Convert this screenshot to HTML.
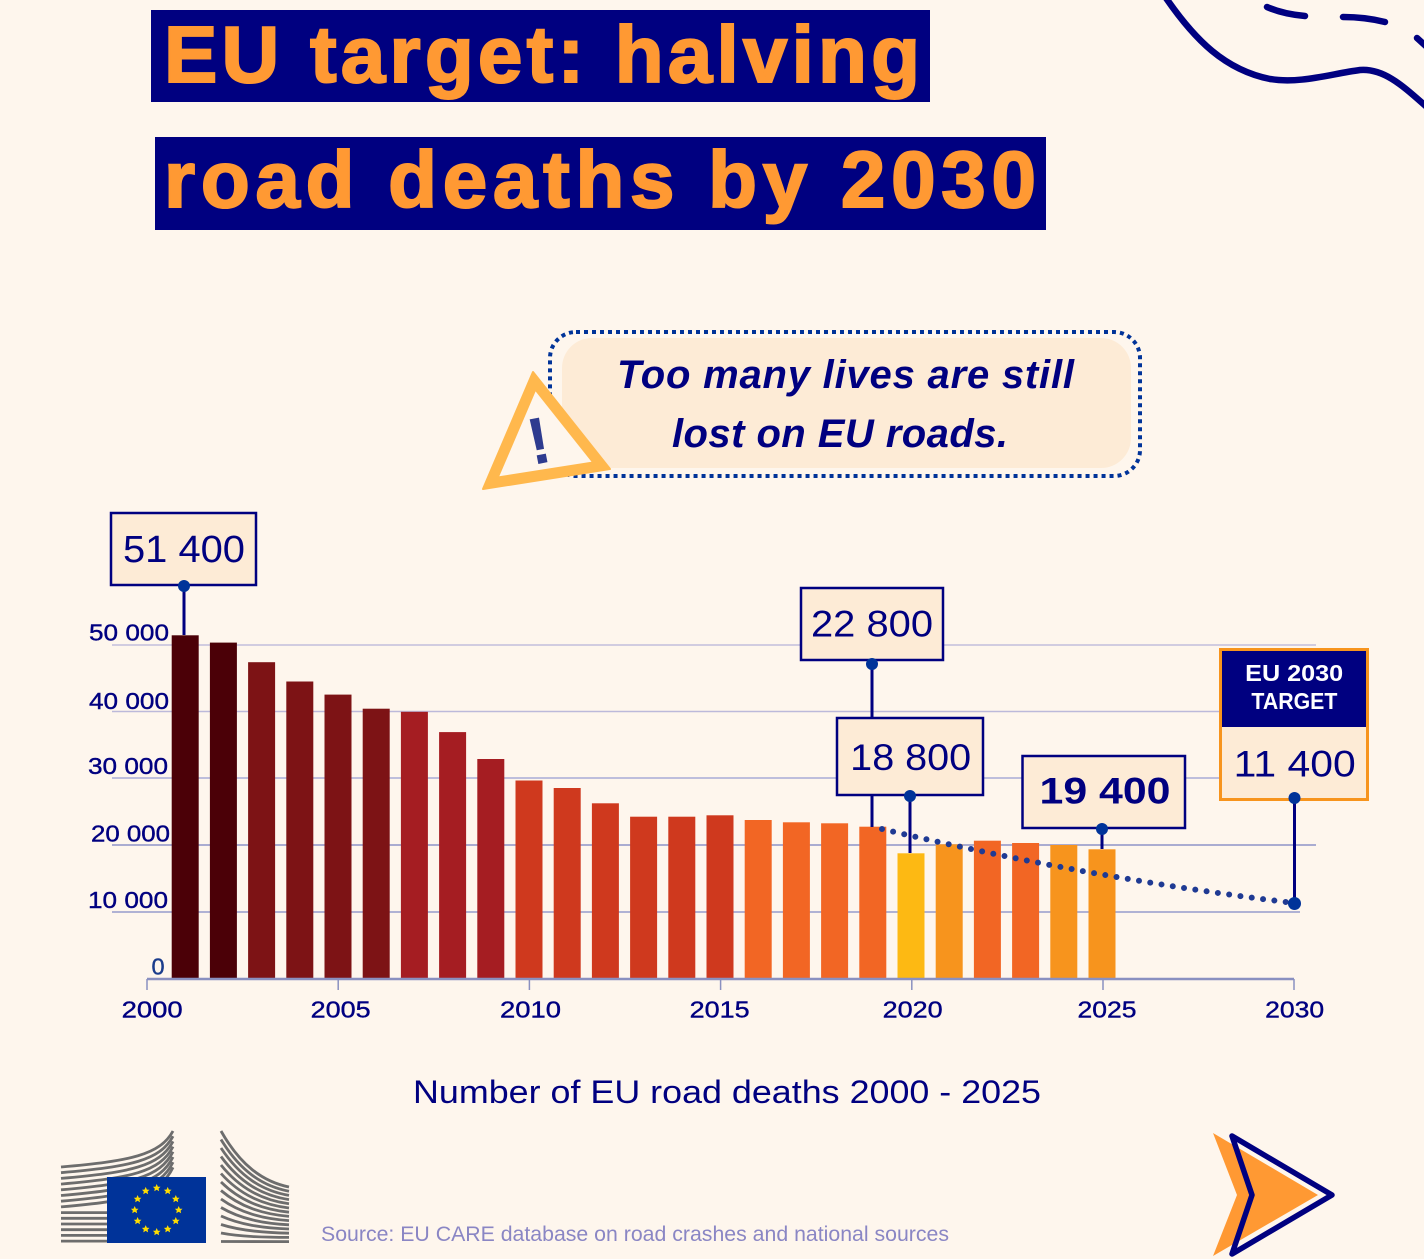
<!DOCTYPE html>
<html>
<head>
<meta charset="utf-8">
<style>
html,body{margin:0;padding:0;background:#fef6ed;}
svg{display:block;}
text{font-family:"Liberation Sans",sans-serif;}
</style>
</head>
<body>
<svg width="1424" height="1259" viewBox="0 0 1424 1259" xmlns="http://www.w3.org/2000/svg">
<rect x="0" y="0" width="1424" height="1259" fill="#fef6ed"/>

<!-- top-right decoration -->
<g fill="none" stroke="#000080" stroke-width="6.5" stroke-linecap="round">
<path d="M1166,-2 C1195,40 1225,70 1270,79 C1300,84 1330,74 1360,70 C1385,68 1405,88 1428,108"/>
<path d="M1267,7 Q1283,14 1305,16"/>
<path d="M1343,17 Q1365,17 1385,22"/>
<path d="M1417,38 L1428,48"/>
</g>

<!-- Title -->
<rect x="151" y="10" width="779" height="92" fill="#000080"/>
<rect x="155" y="137" width="891" height="93" fill="#000080"/>
<text x="164" y="82" font-size="80" font-weight="bold" fill="#ff9933" stroke="#ff9933" stroke-width="2" textLength="756" lengthAdjust="spacing">EU target: halving</text>
<text x="164" y="207" font-size="80" font-weight="bold" fill="#ff9933" stroke="#ff9933" stroke-width="2" textLength="872" lengthAdjust="spacing">road deaths by 2030</text>

<!-- Callout -->
<rect x="550" y="332" width="590" height="144" rx="26" ry="26" fill="none" stroke="#003399" stroke-width="4" stroke-dasharray="4 4"/>
<rect x="562" y="338" width="569" height="130" rx="30" ry="30" fill="#fdebd6"/>
<text x="617" y="388" font-size="40" font-weight="bold" font-style="italic" fill="#000080" textLength="457" lengthAdjust="spacing">Too many lives are still</text>
<text x="672" y="447" font-size="40" font-weight="bold" font-style="italic" fill="#000080" textLength="336" lengthAdjust="spacing">lost on EU roads.</text>

<!-- warning triangle -->
<polygon points="533,372 483,489 610,469" fill="#ffb84d" stroke="#ffb84d" stroke-width="2" stroke-linejoin="round"/>
<polygon points="535.6,391.4 499.3,476.3 591.5,461.8" fill="#fef6ed"/>
<text x="0" y="0" font-size="66" font-weight="bold" fill="#2e3b8f" text-anchor="middle" transform="translate(543,463) rotate(-11)">!</text>

<!-- gridlines -->
<g stroke-width="1.5">
<line x1="112" y1="645" x2="1316" y2="645" stroke="#c2bedb"/>
<line x1="112" y1="711.5" x2="1316" y2="711.5" stroke="#bcb9da"/>
<line x1="112" y1="778" x2="1316" y2="778" stroke="#a9acd6"/>
<line x1="112" y1="845" x2="1316" y2="845" stroke="#8d94c8"/>
<line x1="112" y1="912" x2="1300" y2="912" stroke="#959bcb"/>
</g>

<!-- y labels -->
<g font-size="23.5" fill="#000080" stroke="#000080" stroke-width="0.4">
<text x="89" y="640.5" textLength="80" lengthAdjust="spacingAndGlyphs">50 000</text>
<text x="89" y="709" textLength="80" lengthAdjust="spacingAndGlyphs">40 000</text>
<text x="88" y="774" textLength="80" lengthAdjust="spacingAndGlyphs">30 000</text>
<text x="91" y="841.5" textLength="79" lengthAdjust="spacingAndGlyphs">20 000</text>
<text x="88" y="908" textLength="80" lengthAdjust="spacingAndGlyphs">10 000</text>
</g>
<text x="151.5" y="974.5" font-size="23.5" fill="#1a3c8c" stroke="#1a3c8c" stroke-width="0.4">0</text>

<!-- bars -->
<g>
<rect x="171.7" y="635.3" width="27" height="343.7" fill="#4b0007"/>
<rect x="209.9" y="642.6" width="27" height="336.4" fill="#4b0007"/>
<rect x="248.1" y="662.2" width="27" height="316.8" fill="#7d1315"/>
<rect x="286.3" y="681.5" width="27" height="297.5" fill="#7d1315"/>
<rect x="324.5" y="694.6" width="27" height="284.4" fill="#7d1315"/>
<rect x="362.7" y="708.7" width="27" height="270.3" fill="#7d1315"/>
<rect x="400.9" y="711.8" width="27" height="267.2" fill="#a51d22"/>
<rect x="439.1" y="732.1" width="27" height="246.9" fill="#a51d22"/>
<rect x="477.3" y="759" width="27" height="220" fill="#a51d22"/>
<rect x="515.5" y="780.5" width="27" height="198.5" fill="#cf391e"/>
<rect x="553.7" y="788" width="27" height="191" fill="#cf391e"/>
<rect x="591.9" y="803.3" width="27" height="175.7" fill="#cf391e"/>
<rect x="630.1" y="816.7" width="27" height="162.3" fill="#cf391e"/>
<rect x="668.3" y="816.7" width="27" height="162.3" fill="#cf391e"/>
<rect x="706.5" y="815.3" width="27" height="163.7" fill="#cf391e"/>
<rect x="744.7" y="820" width="27" height="159" fill="#f26624"/>
<rect x="782.9" y="822.3" width="27" height="156.7" fill="#f26624"/>
<rect x="821.1" y="823.3" width="27" height="155.7" fill="#f26624"/>
<rect x="859.3" y="826.7" width="27" height="152.3" fill="#f26624"/>
<rect x="897.5" y="853.3" width="27" height="125.7" fill="#fdb913"/>
<rect x="935.7" y="844.3" width="27" height="134.7" fill="#f7941d"/>
<rect x="973.9" y="840.7" width="27" height="138.3" fill="#f26624"/>
<rect x="1012.1" y="843" width="27" height="136" fill="#f26624"/>
<rect x="1050.3" y="845" width="27" height="134" fill="#f7941d"/>
<rect x="1088.5" y="849.3" width="27" height="129.7" fill="#f7941d"/>
</g>

<!-- axis -->
<g stroke="#8a90c0">
<line x1="147" y1="979" x2="1294" y2="979" stroke-width="2.5"/>
<line x1="147" y1="979" x2="147" y2="990" stroke-width="1.5"/>
<line x1="338.2" y1="979" x2="338.2" y2="990" stroke-width="1.5"/>
<line x1="529.4" y1="979" x2="529.4" y2="990" stroke-width="1.5"/>
<line x1="720.6" y1="979" x2="720.6" y2="990" stroke-width="1.5"/>
<line x1="911.8" y1="979" x2="911.8" y2="990" stroke-width="1.5"/>
<line x1="1103" y1="979" x2="1103" y2="990" stroke-width="1.5"/>
<line x1="1294" y1="979" x2="1294" y2="990" stroke-width="1.5"/>
</g>
<g font-size="23.5" fill="#000080" stroke="#000080" stroke-width="0.4" text-anchor="middle">
<text x="152.2" y="1017.5" textLength="61" lengthAdjust="spacingAndGlyphs">2000</text>
<text x="340.7" y="1017.5" textLength="60" lengthAdjust="spacingAndGlyphs">2005</text>
<text x="530.5" y="1017.5" textLength="61" lengthAdjust="spacingAndGlyphs">2010</text>
<text x="719.7" y="1017.5" textLength="60" lengthAdjust="spacingAndGlyphs">2015</text>
<text x="912.6" y="1017.5" textLength="60" lengthAdjust="spacingAndGlyphs">2020</text>
<text x="1107" y="1017.5" textLength="59" lengthAdjust="spacingAndGlyphs">2025</text>
<text x="1294.6" y="1017.5" textLength="59" lengthAdjust="spacingAndGlyphs">2030</text>
</g>

<!-- trend dotted line -->
<path d="M882,829 Q1088,878 1294,903" fill="none" stroke="#1f3a93" stroke-width="6" stroke-linecap="round" stroke-dasharray="0 11.4"/>

<!-- connector lines -->
<g stroke="#000080" stroke-width="3">
<line x1="184" y1="586" x2="184" y2="635"/>
<line x1="872" y1="664" x2="872" y2="827"/>
<line x1="910" y1="796" x2="910" y2="853"/>
<line x1="1102" y1="829" x2="1102" y2="849"/>
<line x1="1294.5" y1="798" x2="1294.5" y2="903"/>
</g>

<!-- value boxes -->
<rect x="111" y="513" width="145" height="72" fill="#fdebd6" stroke="#000080" stroke-width="2.5"/>
<text x="184" y="562" font-size="38" fill="#000080" text-anchor="middle" textLength="122" lengthAdjust="spacingAndGlyphs">51 400</text>

<rect x="801" y="588" width="142" height="72" fill="#fdebd6" stroke="#000080" stroke-width="2.5"/>
<text x="872" y="636.5" font-size="37" fill="#000080" text-anchor="middle" textLength="122" lengthAdjust="spacingAndGlyphs">22 800</text>

<rect x="837" y="718" width="146" height="77" fill="#fdebd6" stroke="#000080" stroke-width="2.5"/>
<text x="910.7" y="770" font-size="37" fill="#000080" text-anchor="middle" textLength="121" lengthAdjust="spacingAndGlyphs">18 800</text>

<rect x="1022.5" y="756" width="162.5" height="72" fill="#fdebd6" stroke="#000080" stroke-width="2.5"/>
<text x="1105" y="803.3" font-size="37" font-weight="bold" fill="#000080" text-anchor="middle" textLength="131" lengthAdjust="spacingAndGlyphs">19 400</text>

<!-- EU 2030 target -->
<rect x="1220.5" y="649.5" width="147" height="150" fill="#fdebd6" stroke="#f7941d" stroke-width="3"/>
<rect x="1222" y="651" width="144" height="76" fill="#000080"/>
<text x="1294.2" y="681" font-size="23" font-weight="bold" fill="#ffffff" text-anchor="middle" textLength="98" lengthAdjust="spacingAndGlyphs">EU 2030</text>
<text x="1294.4" y="709" font-size="23" font-weight="bold" fill="#ffffff" text-anchor="middle" textLength="86" lengthAdjust="spacingAndGlyphs">TARGET</text>
<text x="1294.7" y="776.7" font-size="37" fill="#000080" text-anchor="middle" textLength="122" lengthAdjust="spacingAndGlyphs">11 400</text>

<!-- dots -->
<g fill="#003399">
<circle cx="184" cy="586" r="6"/>
<circle cx="872" cy="664" r="6"/>
<circle cx="910" cy="796" r="6"/>
<circle cx="1102" cy="829" r="6"/>
<circle cx="1294.5" cy="798" r="6"/>
<circle cx="1294.5" cy="903.5" r="6.5"/>
</g>

<!-- footer texts -->
<text x="413" y="1103" font-size="32" fill="#000080" textLength="628" lengthAdjust="spacingAndGlyphs">Number of EU road deaths 2000 - 2025</text>
<text x="321" y="1241" font-size="21" fill="#8a86c4" textLength="628" lengthAdjust="spacingAndGlyphs">Source: EU CARE database on road crashes and national sources</text>

<!-- EU Commission logo -->
<g fill="none" stroke="#6d6d6d" stroke-width="2.8">
<path d="M61,1167 C130,1161 160,1155 173,1131"/>
<path d="M61,1172.7 C130,1166.7 160,1160.7 173,1136.2"/>
<path d="M61,1178.4 C130,1172.4 160,1166.4 173,1141.4"/>
<path d="M61,1184.1 C130,1178.1 160,1172.1 173,1146.6"/>
<path d="M61,1189.8 C130,1183.8 160,1177.8 173,1151.8"/>
<path d="M61,1195.5 C130,1189.5 160,1183.5 173,1157"/>
<path d="M61,1201.2 C130,1195.2 160,1189.2 173,1162.2"/>
<path d="M61,1206.9 C130,1200.9 160,1194.9 173,1167.4"/>
<path d="M61,1212.6 L110,1212.6"/>
<path d="M61,1218.3 L110,1218.3"/>
<path d="M61,1224 L110,1224"/>
<path d="M61,1229.7 L110,1229.7"/>
<path d="M61,1235.4 L110,1235.4"/>
<path d="M61,1241.1 L110,1241.1"/>

<path d="M221,1131 C240,1164.6 262,1181.4 289,1187"/>
<path d="M221,1139.5 C240,1170.6 262,1186.1 289,1191.2"/>
<path d="M221,1148 C240,1176.6 262,1190.7 289,1195.4"/>
<path d="M221,1156.5 C240,1182.6 262,1195.4 289,1199.6"/>
<path d="M221,1165 C240,1188.6 262,1200 289,1203.8"/>
<path d="M221,1173.5 C240,1194.6 262,1204.7 289,1208"/>
<path d="M221,1182 C240,1200.6 262,1209.4 289,1212.2"/>
<path d="M221,1190.5 C240,1206.6 262,1214 289,1216.4"/>
<path d="M221,1199 C240,1212.6 262,1218.7 289,1220.6"/>
<path d="M221,1207.5 C240,1218.6 262,1223.4 289,1224.8"/>
<path d="M221,1216 C240,1224.6 262,1228 289,1229"/>
<path d="M221,1224.5 C240,1230.6 262,1232.7 289,1233.2"/>
<path d="M221,1233 C240,1236.6 262,1237.3 289,1237.4"/>
<path d="M221,1241.5 L289,1241.6"/>
</g>
<rect x="107" y="1177" width="99" height="66" fill="#003399"/>
<g fill="#ffdd00">
<polygon transform="translate(156.7,1188)" points="0,-4 1.2,-1.3 3.8,-1.2 1.9,0.6 2.4,3.3 0,1.8 -2.4,3.3 -1.9,0.6 -3.8,-1.2 -1.2,-1.3"/>
<polygon transform="translate(167.7,1190.9)" points="0,-4 1.2,-1.3 3.8,-1.2 1.9,0.6 2.4,3.3 0,1.8 -2.4,3.3 -1.9,0.6 -3.8,-1.2 -1.2,-1.3"/>
<polygon transform="translate(175.8,1199)" points="0,-4 1.2,-1.3 3.8,-1.2 1.9,0.6 2.4,3.3 0,1.8 -2.4,3.3 -1.9,0.6 -3.8,-1.2 -1.2,-1.3"/>
<polygon transform="translate(178.7,1210)" points="0,-4 1.2,-1.3 3.8,-1.2 1.9,0.6 2.4,3.3 0,1.8 -2.4,3.3 -1.9,0.6 -3.8,-1.2 -1.2,-1.3"/>
<polygon transform="translate(175.8,1221)" points="0,-4 1.2,-1.3 3.8,-1.2 1.9,0.6 2.4,3.3 0,1.8 -2.4,3.3 -1.9,0.6 -3.8,-1.2 -1.2,-1.3"/>
<polygon transform="translate(167.7,1229.1)" points="0,-4 1.2,-1.3 3.8,-1.2 1.9,0.6 2.4,3.3 0,1.8 -2.4,3.3 -1.9,0.6 -3.8,-1.2 -1.2,-1.3"/>
<polygon transform="translate(156.7,1232)" points="0,-4 1.2,-1.3 3.8,-1.2 1.9,0.6 2.4,3.3 0,1.8 -2.4,3.3 -1.9,0.6 -3.8,-1.2 -1.2,-1.3"/>
<polygon transform="translate(145.7,1229.1)" points="0,-4 1.2,-1.3 3.8,-1.2 1.9,0.6 2.4,3.3 0,1.8 -2.4,3.3 -1.9,0.6 -3.8,-1.2 -1.2,-1.3"/>
<polygon transform="translate(137.6,1221)" points="0,-4 1.2,-1.3 3.8,-1.2 1.9,0.6 2.4,3.3 0,1.8 -2.4,3.3 -1.9,0.6 -3.8,-1.2 -1.2,-1.3"/>
<polygon transform="translate(134.7,1210)" points="0,-4 1.2,-1.3 3.8,-1.2 1.9,0.6 2.4,3.3 0,1.8 -2.4,3.3 -1.9,0.6 -3.8,-1.2 -1.2,-1.3"/>
<polygon transform="translate(137.6,1199)" points="0,-4 1.2,-1.3 3.8,-1.2 1.9,0.6 2.4,3.3 0,1.8 -2.4,3.3 -1.9,0.6 -3.8,-1.2 -1.2,-1.3"/>
<polygon transform="translate(145.7,1190.9)" points="0,-4 1.2,-1.3 3.8,-1.2 1.9,0.6 2.4,3.3 0,1.8 -2.4,3.3 -1.9,0.6 -3.8,-1.2 -1.2,-1.3"/>
</g>

<!-- arrow bottom right -->
<polygon points="1213,1133 1318,1195 1213,1256 1237,1195" fill="#ff9933"/>
<polygon points="1232,1136 1332,1195 1232,1254 1252,1195" fill="none" stroke="#000080" stroke-width="5.5" stroke-linejoin="round"/>
</svg>
</body>
</html>
